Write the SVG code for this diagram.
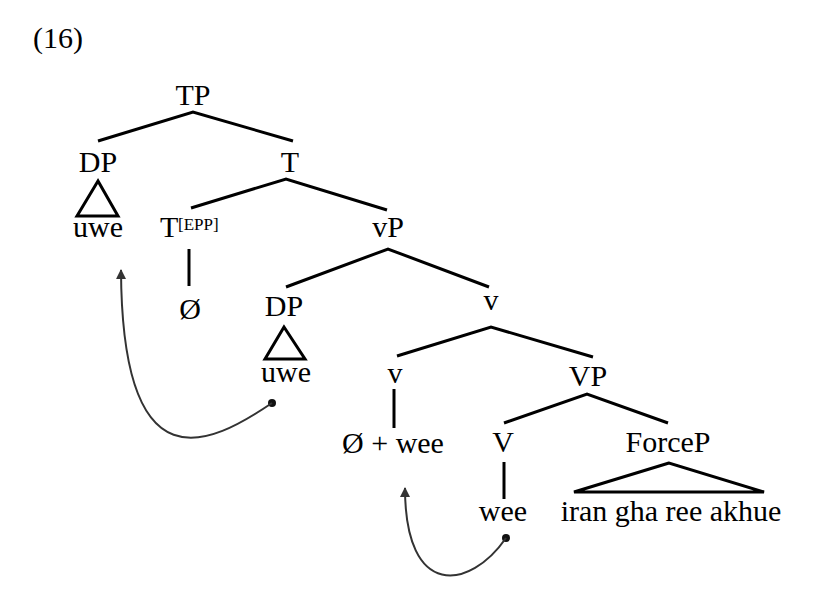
<svg xmlns="http://www.w3.org/2000/svg" width="827" height="604" viewBox="0 0 827 604">
<style>
text{font-family:"Liberation Serif","Times New Roman",serif;font-size:30px;fill:#000;text-anchor:middle}
.sup{font-size:17px;text-anchor:start}
.st{text-anchor:start}
.e{stroke:#000;stroke-width:3;fill:none;stroke-linecap:butt}
.tri{stroke:#000;stroke-width:3;fill:none;stroke-linejoin:miter}
.mv{stroke:#333;stroke-width:2;fill:none}
.dot{fill:#111}
</style>
<defs>
<marker id="ah" viewBox="0 0 10 10" refX="9" refY="5" markerWidth="6" markerHeight="5" orient="auto" markerUnits="strokeWidth">
<path d="M0,0 L10,5 L0,10 Z" fill="#333"/>
</marker>
</defs>
<rect width="827" height="604" fill="#fff"/>
<text class="st" x="33" y="48">(16)</text>
<g id="connectors">
<path class="e" d="M98,141 L193,112 L293,141"/>
<path class="e" d="M191,208 L286,179 L387,210"/>
<path class="e" d="M189,249 L189,286"/>
<path class="e" d="M286,287 L388,249 L489,287"/>
<path class="e" d="M397,356 L491,327 L593,357"/>
<path class="e" d="M394,389 L394,428"/>
<path class="e" d="M504,423 L587,394 L668,423"/>
<path class="e" d="M504,462 L504,499"/>
</g>
<g id="TP"><text x="193" y="105">TP</text></g>
<g id="DP1"><text x="98" y="172">DP</text><path class="tri" d="M98,181 L77,216 L118,216 Z"/><text x="98" y="237">uwe</text></g>
<g id="T"><text x="290" y="172">T</text></g>
<g id="TEPP"><text class="st" x="160" y="237">T</text><text class="sup" x="178" y="230">[EPP]</text></g>
<g id="null1"><text x="190" y="319">Ø</text></g>
<g id="vP"><text x="388" y="237">vP</text></g>
<g id="DP2"><text x="284" y="316">DP</text><path class="tri" d="M284,327 L265,359 L305,359 Z"/><text x="286" y="382">uwe</text></g>
<g id="vbar"><text x="491" y="310">v</text></g>
<g id="v"><text x="395" y="383">v</text></g>
<g id="VP"><text x="588" y="386">VP</text></g>
<g id="vhead"><text x="393" y="453">Ø + wee</text></g>
<g id="V"><text x="503" y="452">V</text></g>
<g id="ForceP"><text x="668" y="452">ForceP</text><path class="tri" d="M669,463 L574,492 L764,492 Z"/><text x="671" y="521">iran gha ree akhue</text></g>
<g id="wee"><text x="503" y="521">wee</text></g>
<g id="movement">
<circle class="dot" cx="272" cy="403" r="4"/>
<path class="mv" d="M272,403 C210,445 122,490 121,270" marker-end="url(#ah)"/>
<circle class="dot" cx="506" cy="538" r="4"/>
<path class="mv" d="M506,538 C470,590 405,600 405,488" marker-end="url(#ah)"/>
</g>
</svg>
